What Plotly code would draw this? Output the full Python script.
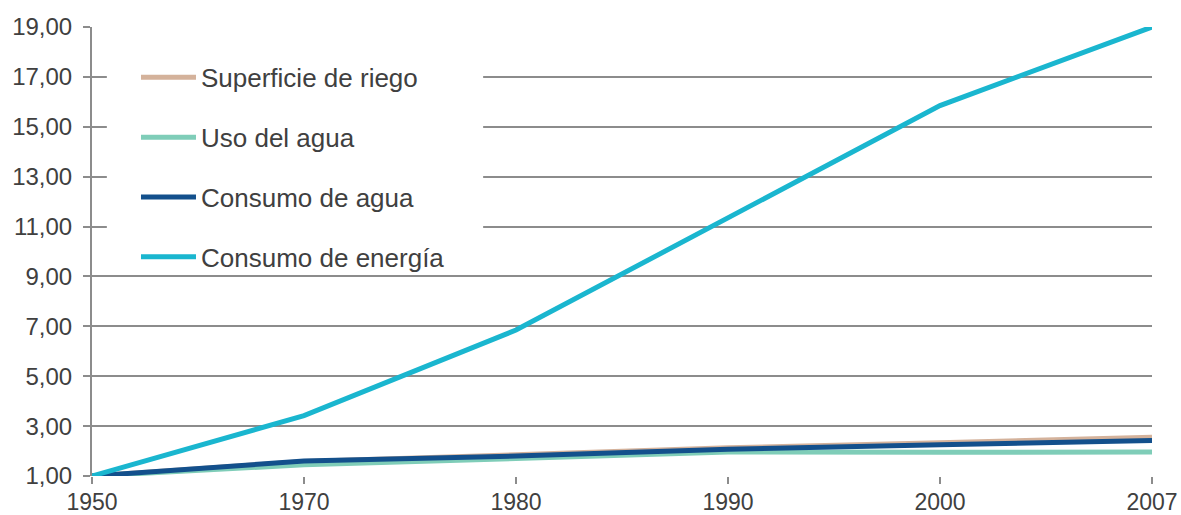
import plotly.graph_objects as go

years = ["1950", "1970", "1980", "1990", "2000", "2007"]

superficie_riego = [1.00, 1.58, 1.85, 2.13, 2.33, 2.55]
uso_agua = [1.00, 1.45, 1.70, 1.96, 1.95, 1.96]
consumo_agua = [1.00, 1.60, 1.80, 2.07, 2.25, 2.42]
consumo_energia = [1.00, 3.42, 6.85, 11.35, 15.85, 19.00]

series = [
    ("Superficie de riego", superficie_riego, "#d4b29b"),
    ("Uso del agua", uso_agua, "#7fcdb8"),
    ("Consumo de agua", consumo_agua, "#13508c"),
    ("Consumo de energía", consumo_energia, "#1ab6cf"),
]

fig = go.Figure()
for name, vals, color in series:
    fig.add_trace(go.Scatter(
        x=years, y=vals, name=name, mode="lines",
        line=dict(color=color, width=5),
        legendgroup=name,
    ))

grid_col = "#8c8c8c"
txt_col = "#404040"

# white panel behind the legend, hiding the gridlines there
fig.add_shape(
    type="rect", xref="paper", yref="paper",
    x0=0.014, x1=0.369, y0=0.45, y1=0.97,
    fillcolor="white", line=dict(width=0), layer="above",
)

fig.update_layout(
    width=1181, height=515,
    margin=dict(l=92, r=29, t=27, b=39, autoexpand=False),
    paper_bgcolor="white", plot_bgcolor="white",
    separators=",.",
    font=dict(family="Liberation Sans, Arial, sans-serif", size=23, color=txt_col),
    legend=dict(
        x=0.0415, y=0.94, xanchor="left", yanchor="top",
        bgcolor="rgba(255,255,255,0)",
        font=dict(size=26, color=txt_col),
        tracegroupgap=23, itemwidth=55,
    ),
    xaxis=dict(
        type="category", range=[0, 5], automargin=False,
        showline=False, showgrid=False,
        ticks="outside", ticklen=7, tickwidth=2, tickcolor=grid_col,
        ticklabelstandoff=-2,
        tickfont=dict(size=23, color=txt_col),
    ),
    yaxis=dict(
        range=[1, 19], dtick=2, tick0=1, tickformat=".2f", automargin=False,
        showgrid=True, gridcolor=grid_col, gridwidth=2,
        showline=True, linecolor=grid_col, linewidth=2,
        ticks="outside", ticklen=7, tickwidth=2, tickcolor=grid_col,
        ticklabelstandoff=6,
        tickfont=dict(size=24, color=txt_col),
        zeroline=False,
    ),
)

fig.write_html("out.html")
